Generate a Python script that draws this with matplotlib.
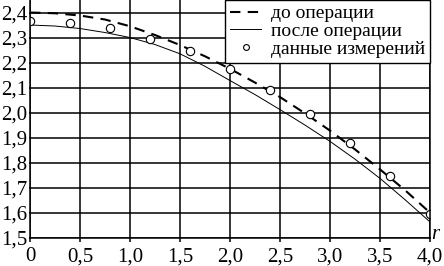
import matplotlib
matplotlib.use("Agg")
import matplotlib.pyplot as plt
from matplotlib.ticker import FixedLocator

plt.rcParams['font.family'] = ['Liberation Serif', 'DejaVu Serif']

# radius values
r = [0, 0.25, 0.5, 0.75, 1.0, 1.25, 1.5, 1.75, 2.0, 2.25, 2.5,
     2.75, 3.0, 3.25, 3.5, 3.75, 4.0]
# before surgery (dashed)
before = [2.400, 2.397, 2.388, 2.372, 2.345, 2.310, 2.270, 2.225, 2.175,
          2.120, 2.062, 1.997, 1.928, 1.853, 1.773, 1.690, 1.600]
# after surgery (thin solid)
after = [2.350, 2.346, 2.336, 2.320, 2.300, 2.272, 2.235, 2.185, 2.128,
         2.072, 2.012, 1.950, 1.885, 1.814, 1.737, 1.652, 1.563]
# measured points
r_meas = [0, 0.4, 0.8, 1.2, 1.6, 2.0, 2.4, 2.8, 3.2, 3.6, 4.0]
meas = [2.368, 2.359, 2.337, 2.294, 2.246, 2.173, 2.090, 1.993, 1.877, 1.746, 1.594]

xticks = [0, 0.5, 1.0, 1.5, 2.0, 2.5, 3.0, 3.5, 4.0]
xlabels = ['0', '0,5', '1,0', '1,5', '2,0', '2,5', '3,0', '3,5', '4,0']
yticks = [1.5, 1.6, 1.7, 1.8, 1.9, 2.0, 2.1, 2.2, 2.3, 2.4]
ylabels = ['1,5', '1,6', '1,7', '1,8', '1,9', '2,0', '2,1', '2,2', '2,3', '2,4']

fig = plt.figure(figsize=(4.44, 2.66), dpi=100)
ax = fig.add_axes([30 / 444, 28.3 / 266, 400 / 444, 237.7 / 266])

ax.plot(r, before, color='black', lw=1.5, dashes=(5, 3.5), label='до операции')
ax.plot(r, after, color='black', lw=0.7, label='после операции')
ax.plot(r_meas, meas, 'o', ms=6, mfc='white', mec='black', mew=0.8,
        label='данные измерений')

ax.set_xlim(0, 4.0)
ax.set_ylim(1.5, 2.45)
ax.xaxis.set_major_locator(FixedLocator(xticks))
ax.set_xticklabels(xlabels)
ax.yaxis.set_major_locator(FixedLocator(yticks))
ax.set_yticklabels(ylabels)
ax.grid(True, color='black', lw=1.1)
ax.set_axisbelow(True)
ax.tick_params(axis='x', length=3, width=1.1, pad=4, labelsize=15)
ax.tick_params(axis='y', length=1, width=1.1, pad=1, labelsize=15)
ax.spines['top'].set_visible(False)
for s in ['left', 'right', 'bottom']:
    ax.spines[s].set_linewidth(1.1)

ax.text(1.004, 0.012, 'r', transform=ax.transAxes, fontsize=15, style='italic',
        ha='left', va='center')

leg = ax.legend(loc='upper right', fontsize=14, frameon=True, fancybox=False,
                borderaxespad=0, handlelength=1.6, handletextpad=0.5,
                labelspacing=0.0, borderpad=0.25, markerscale=0.7)
leg.get_frame().set_edgecolor('black')
leg.get_frame().set_linewidth(1.0)
leg.get_frame().set_alpha(1)

fig.savefig('out.png', dpi=100)
